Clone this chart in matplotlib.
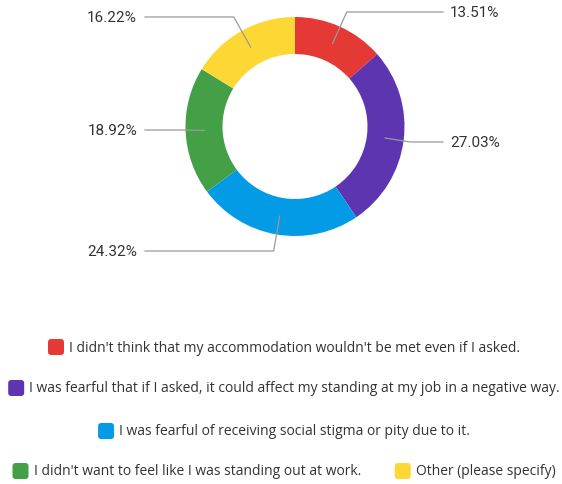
import numpy as np
import matplotlib
matplotlib.use("Agg")
import matplotlib.pyplot as plt
from matplotlib.patches import FancyBboxPatch

categories = [
    "I didn't think that my accommodation wouldn't be met even if I asked.",
    "I was fearful that if I asked, it could affect my standing at my job in a negative way.",
    "I was fearful of receiving social stigma or pity due to it.",
    "I didn't want to feel like I was standing out at work.",
    "Other (please specify)",
]
values = [13.51, 27.03, 24.32, 18.92, 16.22]
labels = ["13.51%", "27.03%", "24.32%", "18.92%", "16.22%"]
colors = ["#E53935", "#5E35B1", "#039BE5", "#43A047", "#FDD835"]

W, H = 562, 485
fig = plt.figure(figsize=(W / 100, H / 100), dpi=100)
ax = fig.add_axes([0, 0, 1, 1])

def Y(y):
    return H - y

cx, cy = 295, 127.5
R, ring = 109.5, 37
LFONT = "Open Sans"
PFONT = "Roboto"
TXT = "#333333"

wedges, _ = ax.pie(values, colors=colors, startangle=90, counterclock=False,
                   center=(cx, Y(cy)), radius=R, frame=True,
                   wedgeprops=dict(width=ring, linewidth=0))
ax.set_xlim(0, W)
ax.set_ylim(0, H)
ax.axis("off")

# label layout: (label y in px, side)
label_y = [13, 143, 252, 131, 18]
sides = [1, 1, -1, -1, -1]
text_x_right = 450
text_x_left = 137
line_end_right = 443
line_end_left = 145

rmid = R - ring / 2
for w, ly, s, lab in zip(wedges, label_y, sides, labels):
    ang = np.deg2rad((w.theta1 + w.theta2) / 2)
    ax0 = cx + rmid * np.cos(ang)
    ay0 = Y(cy) + rmid * np.sin(ang)
    ey = Y(ly)
    dy = ey - ay0
    if abs(np.sin(ang)) > 0.2:
        t = dy / np.sin(ang)
        ex = ax0 + t * np.cos(ang)
    else:
        ex = ax0 + s * 25
    lx = line_end_right if s > 0 else line_end_left
    ax.plot([ax0, ex, lx], [ay0, ey, ey], color="#999999", lw=0.9,
            solid_joinstyle="miter")
    if s > 0:
        ax.text(text_x_right, ey, lab, ha="left", va="center", fontsize=11,
                color=TXT, family=PFONT)
    else:
        ax.text(text_x_left, ey, lab, ha="right", va="center", fontsize=11,
                color=TXT, family=PFONT)

# legend
rows = [[0], [1], [2], [3, 4]]
row_y = [348, 389, 432, 472]
center_x = 284
sq = 16
gap = 5
item_gap = 34
renderer = fig.canvas.get_renderer()
for row, ry in zip(rows, row_y):
    texts = []
    total = 0
    for k, idx in enumerate(row):
        t = ax.text(0, Y(ry), categories[idx], ha="left", va="center",
                    fontsize=10, color=TXT, family=LFONT)
        bb = t.get_window_extent(renderer)
        texts.append((t, bb.width))
        total += sq + gap + bb.width
        if k > 0:
            total += item_gap
    x = center_x - total / 2
    for k, (idx, (t, tw)) in enumerate(zip(row, texts)):
        if k > 0:
            x += item_gap
        p = FancyBboxPatch((x + 1.5, Y(ry) - sq / 2 + 1.5), sq - 3, sq - 3,
                           boxstyle="round,pad=1.5,rounding_size=3",
                           facecolor=colors[idx], edgecolor="none")
        ax.add_patch(p)
        x += sq + gap
        t.set_x(x)
        x += tw

fig.savefig("out.png", dpi=100, facecolor="white")
